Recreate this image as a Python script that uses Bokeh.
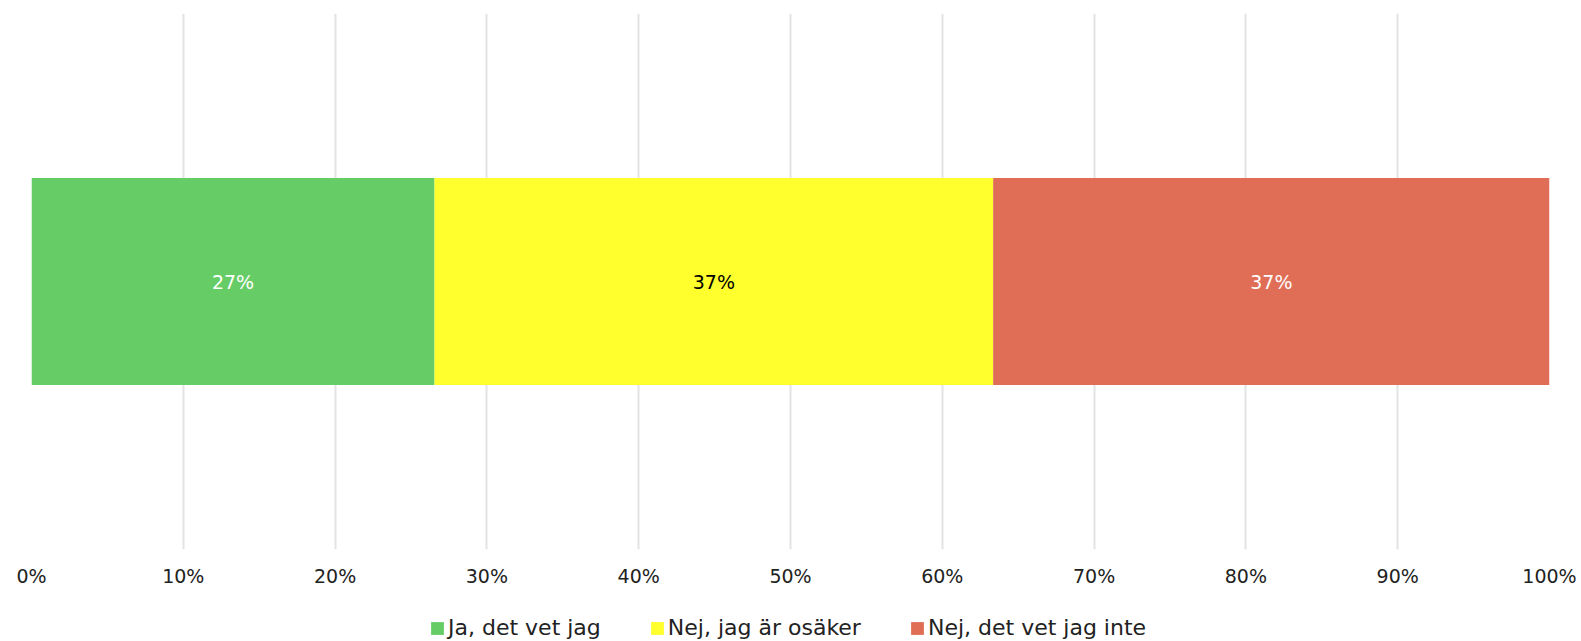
from bokeh.plotting import figure
from bokeh.layouts import column
from bokeh.models import ColumnDataSource, Range1d, FixedTicker, NumeralTickFormatter, Legend, LegendItem
from bokeh.core.properties import value
from bokeh.embed import file_html
from bokeh.resources import INLINE

categories = ["Ja, det vet jag", "Nej, jag är osäker", "Nej, det vet jag inte"]
values = [26.55, 36.8, 36.65]
colors = ["#66CC66", "#FFFF2D", "#E06E56"]
label_colors = ["white", "black", "white"]
tick_values = [0, 10, 20, 30, 40, 50, 60, 70, 80, 90, 100]

FONT = "DejaVu Sans"

p = figure(width=1581, height=600, output_backend="svg", toolbar_location=None,
           x_range=Range1d(0, 1), y_range=Range1d(0, 1),
           min_border_left=31, min_border_right=32, min_border_top=13, min_border_bottom=51)
p.outline_line_color = None
p.yaxis.visible = False
p.ygrid.visible = False

lefts, rights = [], []
acc = 0.0
for v in values:
    lefts.append(acc / 100)
    acc += v
    rights.append(acc / 100)

for i, cat in enumerate(categories):
    src = ColumnDataSource(dict(left=[lefts[i]], right=[rights[i]], y=[0.5]))
    p.hbar(y="y", left="left", right="right", height=0.386, source=src,
           fill_color=colors[i], line_color=None)

lab_src = ColumnDataSource(dict(
    x=[(l + r) / 2 for l, r in zip(lefts, rights)],
    y=[0.5] * len(values),
    t=[f"{round(v)}%" for v in values],
    c=label_colors,
))
p.text(x="x", y="y", text="t", source=lab_src, text_color="c",
       text_align="center", text_baseline="middle",
       text_font=value(FONT), text_font_size="19px")

p.xaxis.ticker = FixedTicker(ticks=[t / 100 for t in tick_values])
p.xaxis.formatter = NumeralTickFormatter(format="0%")
p.xaxis.axis_line_color = None
p.xaxis.major_tick_line_color = None
p.xaxis.minor_tick_line_color = None
p.xaxis.major_tick_out = 0
p.xaxis.major_label_standoff = 15
p.xaxis.major_label_text_font = FONT
p.xaxis.major_label_text_font_size = "19px"
p.xaxis.major_label_text_color = "#222222"

p.xgrid.grid_line_color = "#E3E3E3"
p.xgrid.grid_line_width = 2

# legend in a separate strip below the chart
p2 = figure(width=1581, height=41, output_backend="svg", toolbar_location=None,
            x_range=Range1d(0, 1), y_range=Range1d(0, 1),
            x_axis_location=None, y_axis_location=None,
            min_border_left=0, min_border_right=0, min_border_top=0, min_border_bottom=0)
p2.outline_line_color = None
p2.xgrid.visible = False
p2.ygrid.visible = False
items = []
for i, cat in enumerate(categories):
    r = p2.rect(x=[-10], y=[-10], width=0.01, height=0.01, fill_color=colors[i], line_color=None)
    items.append(LegendItem(label=cat, renderers=[r]))

legend = Legend(items=items, orientation="horizontal", location=(398, 1),
                glyph_width=16, glyph_height=16, label_standoff=3, spacing=48,
                padding=0, margin=0, border_line_color=None, background_fill_alpha=0,
                label_text_font=FONT, label_text_font_size="22px", label_text_color="#222222")
p2.add_layout(legend, "center")

layout = column(p, p2, spacing=0)
open("out.html", "w").write(file_html(layout, INLINE))
